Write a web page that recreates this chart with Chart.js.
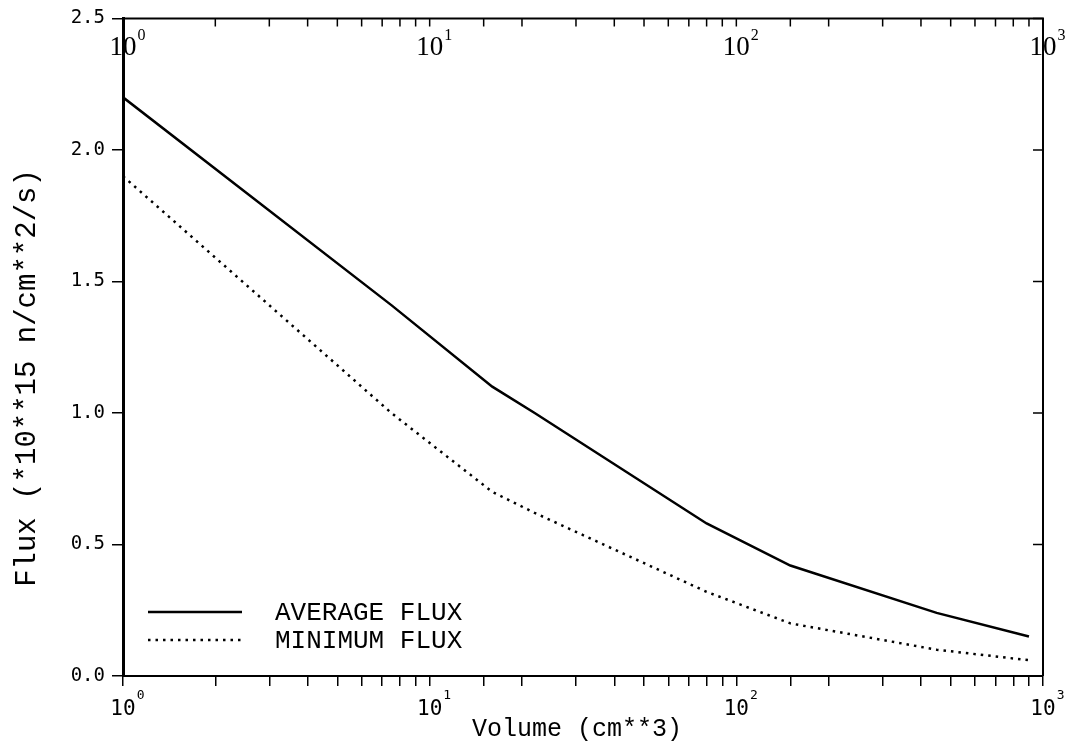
<!DOCTYPE html>
<html>
<head>
<meta charset="utf-8">
<script src="https://cdn.jsdelivr.net/npm/chart.js@4.4.1/dist/chart.umd.min.js"></script>
<style>
html,body{margin:0;padding:0;background:#fff;}
#wrap{width:1070px;height:751px;}
</style>
</head>
<body>
<div id="wrap"><canvas id="fluxChart" width="1070" height="751"></canvas></div>
<script>
// volume in cm**3, flux in units of 10**15 n/cm**2/s
const volumes = [1, 7.5, 16, 22, 80, 150, 450, 900];
const avgFlux = [2.20, 1.41, 1.10, 1.00, 0.58, 0.42, 0.24, 0.15];
const minFlux = [1.90, 1.00, 0.70, 0.62, 0.32, 0.20, 0.10, 0.06];
const yTicks = [0, 0.5, 1.0, 1.5, 2.0, 2.5];
const decades = [0, 1, 2, 3];
const seriesNames = ["AVERAGE FLUX", "MINIMUM FLUX"];
const xTitle = "Volume (cm**3)";
const yTitle = "Flux (*10**15 n/cm**2/s)";

const MONO = '"Liberation Mono", "DejaVu Sans Mono", monospace';
const NUM = '"DejaVu Sans Mono", monospace';
const SERIF = '"Liberation Serif", "DejaVu Serif", serif';

function pts(ys){ return volumes.map((v,i)=>({x:v,y:ys[i]})); }

// "10" centred on the tick, exponent hung to the right
function powerLabel(ctx, px, baseY, font, supFont, rise, exp){
  ctx.font = font;
  const w = ctx.measureText("10").width;
  ctx.textAlign = "left";
  ctx.textBaseline = "alphabetic";
  ctx.fillText("10", px - w/2, baseY);
  ctx.font = supFont;
  ctx.fillText(String(exp), px + w/2 + 1, baseY - rise);
}

const framePlugin = {
  id: "frame",
  afterDraw(chart){
    const {ctx, chartArea:a, scales:{x, y}} = chart;
    ctx.save();
    ctx.strokeStyle = "#000";
    ctx.fillStyle = "#000";

    // top and right edges of the box
    ctx.lineWidth = 2;
    ctx.beginPath();
    ctx.moveTo(a.left, a.top); ctx.lineTo(a.right, a.top); ctx.lineTo(a.right, a.bottom);
    ctx.stroke();

    // inward ticks on top and right
    ctx.lineWidth = 1.5;
    ctx.beginPath();
    x.ticks.forEach(t=>{
      const px = x.getPixelForValue(t.value);
      ctx.moveTo(px, a.top); ctx.lineTo(px, a.top + 8);
    });
    yTicks.forEach(v=>{
      const py = y.getPixelForValue(v);
      ctx.moveTo(a.right, py); ctx.lineTo(a.right - 10, py);
    });
    ctx.stroke();

    // decade labels, bottom and top
    decades.forEach(p=>{
      const px = x.getPixelForValue(Math.pow(10, p));
      powerLabel(ctx, px, 715, "21px " + NUM, "13px " + NUM, 16, p);
      powerLabel(ctx, px, 55, "27px " + SERIF, "16px " + SERIF, 15, p);
    });

    // axis titles
    ctx.textAlign = "center";
    ctx.textBaseline = "alphabetic";
    ctx.font = "25px " + MONO;
    ctx.fillText(xTitle, 577, 736);
    ctx.save();
    ctx.translate(27, 378);
    ctx.rotate(-Math.PI/2);
    ctx.textBaseline = "middle";
    ctx.font = "29px " + MONO;
    ctx.fillText(yTitle, 0, 0);
    ctx.restore();

    // legend
    const rows = [612, 640];
    chart.data.datasets.forEach((ds, i)=>{
      ctx.lineWidth = ds.borderWidth;
      ctx.setLineDash(ds.borderDash || []);
      ctx.beginPath();
      ctx.moveTo(148, rows[i]); ctx.lineTo(242, rows[i]);
      ctx.stroke();
      ctx.setLineDash([]);
      ctx.font = "26px " + MONO;
      ctx.textAlign = "left";
      ctx.textBaseline = "middle";
      ctx.fillText(seriesNames[i], 275, rows[i] + 1);
    });
    ctx.restore();
  }
};

new Chart(document.getElementById("fluxChart"), {
  type: "line",
  data: {
    datasets: [
      {label: seriesNames[0], data: pts(avgFlux), borderColor: "#000", borderWidth: 2.5,
       pointRadius: 0, tension: 0, fill: false},
      {label: seriesNames[1], data: pts(minFlux), borderColor: "#000", borderWidth: 2.5,
       borderDash: [2.5, 5], pointRadius: 0, tension: 0, fill: false}
    ]
  },
  options: {
    responsive: false,
    animation: false,
    devicePixelRatio: 1,
    layout: {padding: {top: 16, right: 27, left: 0, bottom: 0}},
    plugins: {legend: {display: false}, tooltip: {enabled: false}},
    scales: {
      x: {
        type: "logarithmic", position: "bottom", min: 1, max: 1000,
        ticks: {display: false, autoSkip: false},
        grid: {drawOnChartArea: false, drawTicks: true, tickLength: 10, color: "#000", lineWidth: 1.5},
        border: {display: true, color: "#000", width: 2},
        afterFit(s){ s.height = 75; }
      },
      y: {
        type: "linear", min: 0, max: 2.5,
        afterBuildTicks(s){ s.ticks = yTicks.map(v=>({value: v})); },
        ticks: {callback: v => Number(v).toFixed(1), color: "#000", padding: 7,
                font: {family: NUM, size: 19}},
        grid: {drawOnChartArea: false, drawTicks: true, tickLength: 11, color: "#000", lineWidth: 1.5},
        border: {display: true, color: "#000", width: 3},
        afterFit(s){ s.width = 123; }
      }
    }
  },
  plugins: [framePlugin]
});
</script>
</body>
</html>
